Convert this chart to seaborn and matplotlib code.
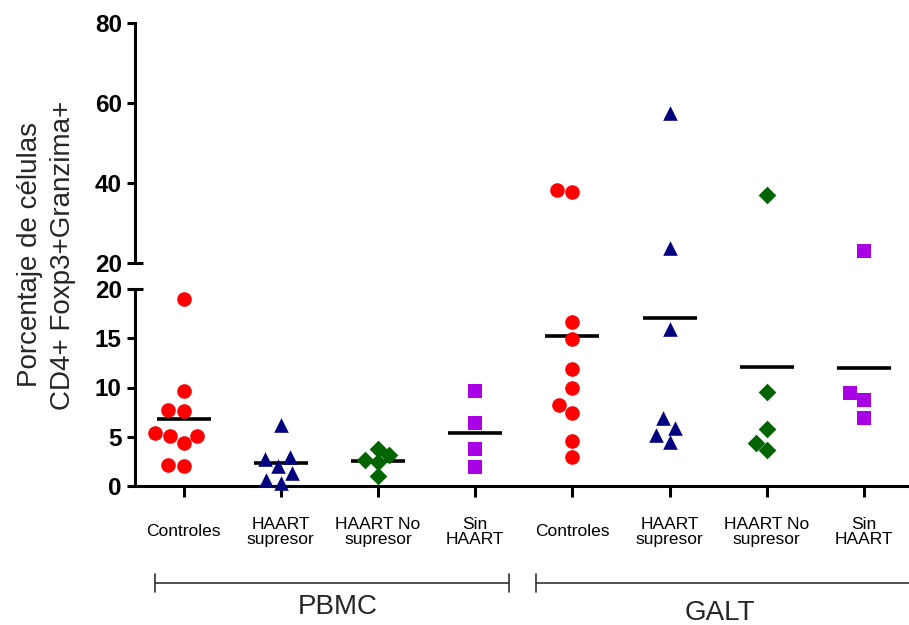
import numpy as np
import pandas as pd
import matplotlib
matplotlib.use('Agg')
import matplotlib.pyplot as plt
import seaborn as sns
from matplotlib.lines import Line2D

# categorias en el orden del grafico
grupos = ['PBMC Controles', 'PBMC HAART supresor', 'PBMC HAART No supresor', 'PBMC Sin HAART',
          'GALT Controles', 'GALT HAART supresor', 'GALT HAART No supresor', 'GALT Sin HAART']
etiquetas = ['Controles', 'HAART\nsupresor', 'HAART No\nsupresor', 'Sin\nHAART'] * 2

# valores (%)
pbmc_controles = [19.0, 9.6, 7.6, 7.7, 5.4, 5.1, 5.1, 4.4, 2.0, 2.1]
pbmc_supresor = [6.2, 2.9, 2.7, 2.0, 1.35, 0.35, 0.6]
pbmc_no_supresor = [3.8, 3.1, 2.6, 2.4, 1.0]
pbmc_sin = [9.6, 6.4, 3.75, 1.9]
galt_controles = [38.3, 37.9, 16.7, 14.9, 11.85, 9.9, 8.2, 7.45, 4.6, 2.9]
galt_supresor = [57.4, 23.7, 15.9, 6.9, 5.9, 5.2, 4.5]
galt_no_supresor = [37.0, 9.5, 5.75, 4.4, 3.65]
galt_sin = [23.1, 9.4, 8.7, 6.9]

valores = [pbmc_controles, pbmc_supresor, pbmc_no_supresor, pbmc_sin,
           galt_controles, galt_supresor, galt_no_supresor, galt_sin]
df = pd.DataFrame({'grupo': np.repeat(grupos, [len(v) for v in valores]),
                   'valor': np.concatenate(valores)})
df['cond'] = df['grupo'].str.split(' ', n=1).str[1]

# marcador, color, tamano por condicion
estilos = {'Controles': ('o', '#FF0000', 10.5),
           'HAART supresor': ('^', '#000080', 10.5),
           'HAART No supresor': ('D', '#006400', 9),
           'Sin HAART': ('s', '#AA00E6', 10.5)}

sns.set_style('white')
plt.rcParams['font.family'] = ['Liberation Sans', 'DejaVu Sans']

fig = plt.figure(figsize=(9.09, 6.25), dpi=100)
ax_up = fig.add_axes([0.1485, 0.5787, 0.8554, 0.385])
ax_lo = fig.add_axes([0.1485, 0.2224, 0.8554, 0.3152])

corte = 20
for cond, (mk, col, sz) in estilos.items():
    sub = df[df['cond'] == cond]
    bajo = sub[sub['valor'] <= corte]
    alto = sub[sub['valor'] > corte]
    sns.swarmplot(data=bajo, x='grupo', y='valor', order=grupos, ax=ax_lo,
                  marker=mk, color=col, size=sz, linewidth=0, clip_on=False)
    if len(alto):
        sns.swarmplot(data=alto, x='grupo', y='valor', order=grupos, ax=ax_up,
                      marker=mk, color=col, size=sz, linewidth=0, clip_on=False)

# lineas de media
sns.pointplot(data=df, x='grupo', y='valor', order=grupos, estimator='mean',
              errorbar=None, color='black', marker='_', markersize=39,
              markeredgewidth=2.6, linestyle='none', ax=ax_lo)

for ax in (ax_up, ax_lo):
    ax.set_facecolor('none')
    ax.set_xlim(-0.5, 7.5)
    ax.set_xlabel('')
    ax.set_ylabel('')
    for s in ('top', 'right'):
        ax.spines[s].set_visible(False)
    ax.spines['left'].set_linewidth(2.2)
    ax.spines['left'].set_color('black')
    ax.tick_params(axis='y', left=True, direction='out', length=6, width=2.2,
                   pad=3.5, labelsize=17.5, colors='black')

ax_up.set_ylim(20, 80)
ax_up.set_yticks([20, 40, 60, 80])
ax_up.set_yticklabels(['20', '40', '60', '80'], fontweight='bold')
ax_up.spines['bottom'].set_visible(False)
ax_up.set_xticks([])

ax_lo.set_ylim(0, 20)
ax_lo.set_yticks([0, 5, 10, 15, 20])
ax_lo.set_yticklabels(['0', '5', '10', '15', '20'], fontweight='bold')
ax_lo.spines['bottom'].set_linewidth(2.2)
ax_lo.spines['bottom'].set_color('black')
ax_lo.set_xticks(range(len(grupos)))
ax_lo.set_xticklabels(etiquetas, va='center', linespacing=1.0, fontsize=12.5)
ax_lo.tick_params(axis='x', bottom=True, direction='out', length=8, width=2.2,
                  pad=25, colors='black')

# marcas del corte (los dos "20" cruzan el eje)
for t in (ax_up.yaxis.get_major_ticks()[0], ax_lo.yaxis.get_major_ticks()[-1]):
    t.tick1line.set_marker('_')
    t.tick1line.set_markersize(11)

fig.text(47 / 909, 1 - 255 / 625, 'Porcentaje de células\nCD4+ Foxp3+Granzima+',
         rotation=90, ha='center', va='center', fontsize=20, linespacing=1.35)

# corchetes de tejido
yb = 1 - 583 / 625
for x0, x1, cap_right in ((155, 509, True), (536, 912, False)):
    fig.add_artist(Line2D([x0 / 909, x1 / 909], [yb, yb], color='#333333', lw=1.2))
    fig.add_artist(Line2D([x0 / 909, x0 / 909], [yb - 0.0144, yb + 0.0144], color='#333333', lw=1.2))
    if cap_right:
        fig.add_artist(Line2D([x1 / 909, x1 / 909], [yb - 0.0144, yb + 0.0144], color='#333333', lw=1.2))
fig.text(338 / 909, 1 - 607 / 625, 'PBMC', ha='center', va='center', fontsize=20)
fig.text(720 / 909, 1 - 613 / 625, 'GALT', ha='center', va='center', fontsize=20)

fig.savefig('out.png', dpi=100)
